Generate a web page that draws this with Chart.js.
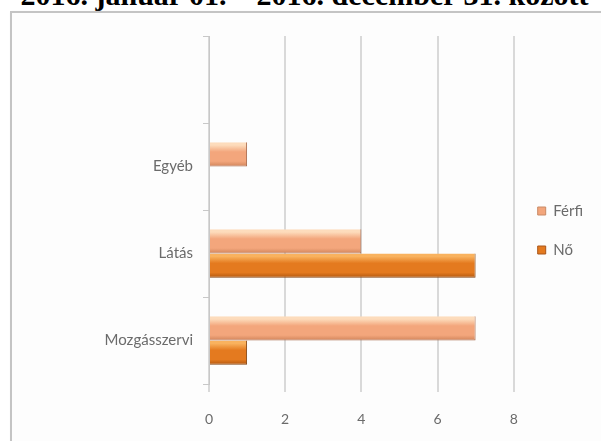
<!DOCTYPE html>
<html>
<head>
<meta charset="utf-8">
<script src="https://cdn.jsdelivr.net/npm/chart.js@4"></script>
<style>
  html, body { margin: 0; padding: 0; background: #fff; overflow: hidden; }
  #wrap { position: relative; width: 601px; height: 441px; overflow: hidden; }
  #heading {
    position: absolute; left: 4px; top: -22px; width: 601px; text-align: center;
    font: bold 30px "Liberation Serif", "DejaVu Serif", serif; color: #000; white-space: nowrap;
  }
  #frame {
    position: absolute; left: 10px; top: 11px; width: 640px; height: 480px;
    border: 2px solid #c4c4c4; background: #fdfdfd; box-shadow: 1px 1px 2px #ddd;
  }
  canvas { position: absolute; left: 0; top: 0; }
</style>
</head>
<body>
<div id="wrap">
  <div id="heading">2016. január 01. – 2016. december 31. között</div>
  <div id="frame"></div>
  <canvas id="chart" width="601" height="441"></canvas>
</div>
<script>
// categories from top to bottom (top slot is empty in the original)
var categories = ["", "Egyéb", "Látás", "Mozgásszervi"];
var ferfi = [null, 1, 4, 7];
var no = [null, 0, 7, 1];
var xTicks = [0, 2, 4, 6, 8];

var catPct = 0.56;

function barFill(shades, upper) {
  return function (context) {
    if (context.dataIndex === undefined) return shades[1];
    var chart = context.chart;
    var yScale = chart.scales.y;
    if (!yScale || !chart.chartArea) return shades[1];
    var center = yScale.getPixelForValue(context.dataIndex);
    var band = (yScale.bottom - yScale.top) / categories.length;
    var thick = band * catPct / 2;
    var top = upper ? center - thick : center;
    var g = chart.ctx.createLinearGradient(0, top, 0, top + thick);
    g.addColorStop(0, shades[0]);
    g.addColorStop(0.12, shades[0]);
    g.addColorStop(0.4, shades[1]);
    g.addColorStop(0.78, shades[1]);
    g.addColorStop(1, shades[2]);
    return g;
  };
}

var ferfiShades = ["#fddcbc", "#f3a67c", "#d0845a"];
var noShades = ["#f9b25e", "#e47a1f", "#b0560f"];

new Chart(document.getElementById("chart"), {
  type: "bar",
  data: {
    labels: categories,
    datasets: [
      {
        label: "Férfi",
        data: ferfi,
        backgroundColor: barFill(ferfiShades, true),
        borderColor: "#a9684a",
        borderWidth: { top: 0, left: 0, right: 1, bottom: 1 },
        barPercentage: 1,
        categoryPercentage: catPct
      },
      {
        label: "Nő",
        data: no,
        backgroundColor: barFill(noShades, false),
        borderColor: "#83430f",
        borderWidth: { top: 0, left: 0, right: 1, bottom: 1 },
        barPercentage: 1,
        categoryPercentage: catPct
      }
    ]
  },
  options: {
    indexAxis: "y",
    responsive: false,
    animation: false,
    layout: { padding: { top: 36, left: 0, right: 8, bottom: 16 } },
    plugins: {
      legend: {
        position: "right",
        labels: {
          boxWidth: 8,
          boxHeight: 8,
          padding: 24,
          color: "#6b6b6b",
          font: { family: "Lato", size: 15 },
          generateLabels: function (chart) {
            var fills = [ferfiShades[1], noShades[1]];
            return chart.data.datasets.map(function (ds, i) {
              return {
                text: ds.label,
                fillStyle: fills[i],
                strokeStyle: i === 0 ? "#c98a66" : "#a9561a",
                lineWidth: 1,
                fontColor: "#6b6b6b",
                datasetIndex: i
              };
            });
          }
        }
      },
      tooltip: { enabled: false }
    },
    scales: {
      x: {
        min: 0,
        max: 8,
        afterBuildTicks: function (scale) {
          scale.ticks = xTicks.map(function (v) { return { value: v }; });
        },
        afterFit: function (scale) { scale.height = 41; },
        border: { display: false },
        grid: { color: "#d9d9d9", lineWidth: 2, tickLength: 8 },
        ticks: { color: "#6b6b6b", padding: 19, font: { family: "Lato", size: 14 } }
      },
      y: {
        afterFit: function (scale) { scale.width = 209; },
        border: { color: "#c8c8c8", width: 1 },
        grid: { offset: true, drawOnChartArea: false, tickLength: 6, color: "#c8c8c8" },
        ticks: { color: "#6b6b6b", padding: 10, font: { family: "Lato", size: 15 } }
      }
    }
  }
});
</script>
</body>
</html>
